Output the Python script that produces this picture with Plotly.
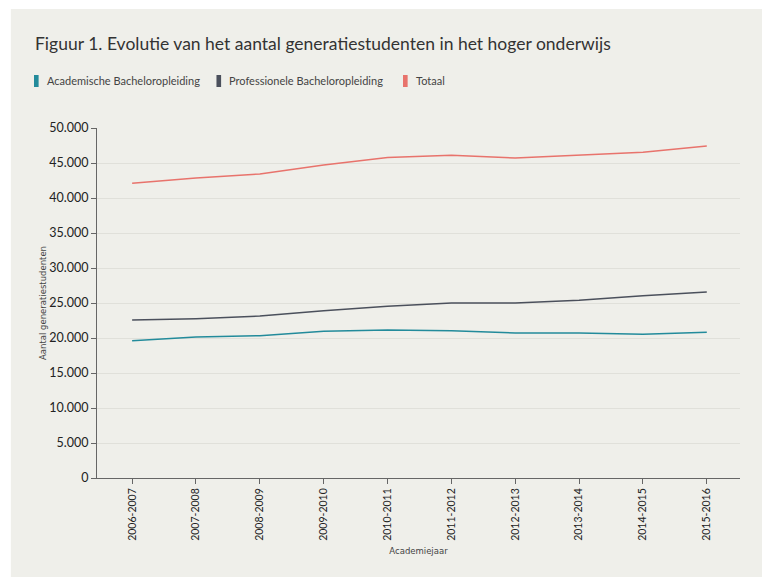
import plotly.graph_objects as go

# ---------------- DATA ----------------
jaren = ["2006-2007", "2007-2008", "2008-2009", "2009-2010", "2010-2011",
         "2011-2012", "2012-2013", "2013-2014", "2014-2015", "2015-2016"]

academisch = [19620, 20140, 20330, 20950, 21140, 21050, 20710, 20710, 20520, 20810]
professioneel = [22570, 22760, 23140, 23900, 24530, 25000, 25000, 25380, 26050, 26570]
totaal = [42100, 42860, 43430, 44700, 45800, 46100, 45700, 46120, 46550, 47420]

reeksen = ["Academische Bacheloropleiding", "Professionele Bacheloropleiding", "Totaal"]
kleuren = ["#238b9b", "#4b505c", "#e8736c"]

bg = "#efefea"
font = "Lato"

fig = go.Figure()

for naam, waarden, kleur in zip(reeksen, [academisch, professioneel, totaal], kleuren):
    fig.add_trace(go.Scatter(
        x=jaren, y=waarden, mode="lines", name=naam,
        line=dict(color=kleur, width=1.5), showlegend=False,
    ))

# grey card behind everything (page has 8px body margin)
fig.add_shape(type="rect", xref="paper", yref="paper",
              x0=-0.134, x1=1.2, y0=-0.5, y1=1.34,
              fillcolor=bg, line=dict(width=0), layer="below")

# handmade legend: small upright blocks + labels
leg_x = [-0.098, 0.1858, 0.4759]
for naam, kleur, lx in zip(reeksen, kleuren, leg_x):
    fig.add_shape(type="rect", xref="paper", yref="paper",
                  x0=lx, x1=lx + 0.0072, y0=1.1171, y1=1.1514,
                  fillcolor=kleur, line=dict(width=0))
    fig.add_annotation(text=naam, xref="paper", yref="paper",
                       x=lx + 0.0171, y=1.1343, xanchor="left", yanchor="middle",
                       showarrow=False, font=dict(size=11, color="#444444", family=font))

fig.update_layout(
    width=770, height=577,
    margin=dict(l=89, r=38, t=120, b=107),
    paper_bgcolor="white",
    plot_bgcolor=bg,
    separators=",.",
    showlegend=False,
    font=dict(family=font, color="#333333"),
    title=dict(
        text="Figuur 1. Evolutie van het aantal generatiestudenten in het hoger onderwijs",
        x=27 / 770, xanchor="left", y=1 - 36 / 577, yanchor="middle",
        font=dict(size=17.5, color="#333333", family=font),
    ),
)

fig.update_xaxes(
    type="category", range=[-0.55, 9.52],
    showgrid=False, showline=True, linecolor="#666666", linewidth=1,
    ticks="outside", ticklen=5, tickcolor="#666666",
    tickangle=-90, tickfont=dict(size=10.5, color="#222222"),
    title=dict(text="Academiejaar", font=dict(size=8.5, color="#444444", family="DejaVu Sans"), standoff=8),
)
fig.update_yaxes(
    range=[0, 50000], dtick=5000, tickformat=",d",
    showgrid=True, gridcolor="#e0e0da", gridwidth=1, zeroline=False,
    showline=True, linecolor="#666666", linewidth=1,
    ticks="outside", ticklen=5, tickcolor="#666666",
    tickfont=dict(size=12.5, color="#222222"),
    title=dict(text="Aantal generatiestudenten", font=dict(size=8.5, color="#444444", family="DejaVu Sans"), standoff=1),
)

fig.write_html("out.html")
